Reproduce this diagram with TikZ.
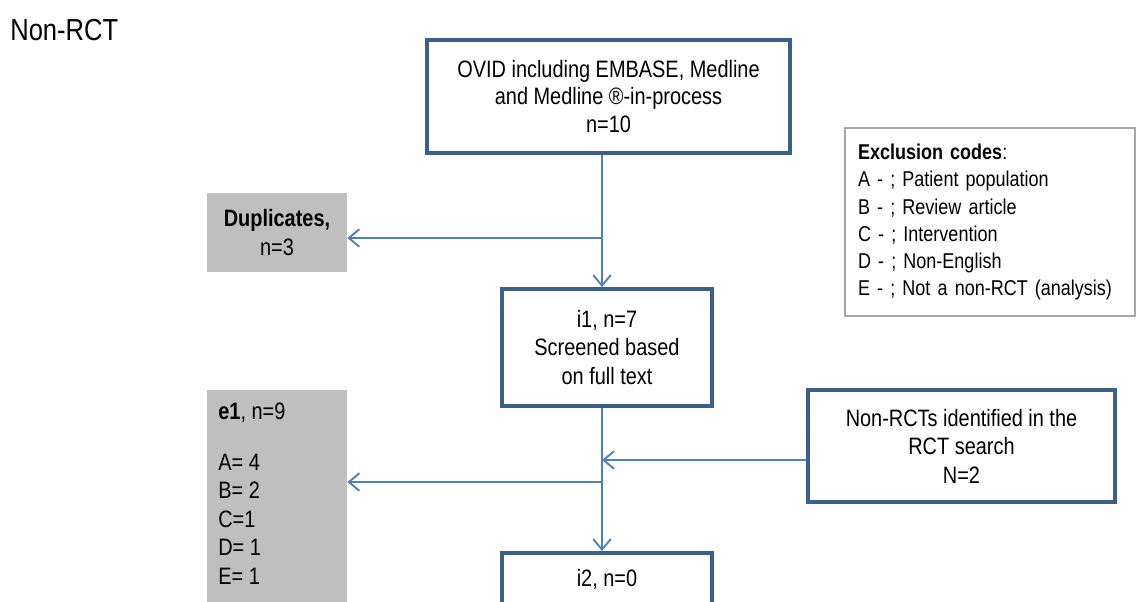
\documentclass[tikz,border=0pt]{standalone}
\usepackage{fontspec}
\setmainfont{Liberation Sans}[FakeStretch=0.84]
\usetikzlibrary{arrows.meta}
\definecolor{cadre}{RGB}{58,95,140}
\definecolor{fleche}{RGB}{79,129,189}
\definecolor{grisfond}{RGB}{191,191,191}
\definecolor{grisbord}{RGB}{166,166,166}
\begin{document}
\begin{tikzpicture}[x=0.02cm, y=-0.02cm,
    boite/.style={draw=cadre, line width=2.2pt, align=center, inner sep=0pt,
        font=\fontsize{13.5}{16.2}\selectfont},
    exclu/.style={fill=grisfond, inner sep=0pt, align=center,
        font=\fontsize{13.5}{16.2}\selectfont},
    fl/.style={draw=fleche, line width=1.1pt, -{Straight Barb[length=6pt,width=10pt]}}]
    \useasboundingbox (0,0) rectangle (1137,602);
    % Titre
    \node[anchor=west, inner sep=0pt, font=\fontsize{17.3}{20}\selectfont] (titre) at (10,30) {Non-RCT};
    % Boites principales
    \node[boite, minimum width=7.26cm, minimum height=2.26cm, font=\fontsize{13.5}{15.4}\selectfont]
        (ovid) at (608.5,96.5) {OVID including EMBASE, Medline\\and Medline ®-in-process\\n=10};
    \node[boite, minimum width=4.2cm, minimum height=2.34cm] (i1) at (607,347.5)
        {i1, n=7\\Screened based\\on full text};
    \node[boite, minimum width=4.2cm, minimum height=1.06cm] (i2) at (607,579.5) {i2, n=0};
    \node[boite, minimum width=6.14cm, minimum height=2.24cm] (rct) at (961.5,446)
        {Non-RCTs identified in the\\RCT search\\N=2};
    % Exclusions
    \node[exclu, minimum width=2.8cm, minimum height=1.58cm] (dup) at (277,232.5)
        {\textbf{Duplicates,}\\n=3};
    \node[exclu, minimum width=2.8cm, minimum height=4.6cm, anchor=north] (e1) at (277,390) {};
    \node[anchor=north west, inner sep=0pt, align=left, font=\fontsize{13.5}{16.2}\selectfont]
        (e1txt) at (218,403) {\textbf{e1}, n=9\\[12.6pt]A= 4\\B= 2\\C=1\\D= 1\\E= 1};
    % Codes d'exclusion
    \node[draw=grisbord, line width=0.8pt, minimum width=5.8cm, minimum height=3.76cm,
        inner xsep=0.26cm, text width=5.28cm, align=left,
        font=\fontsize{12.2}{15.4}\selectfont] (codes) at (990,222)
        {\textbf{Exclusion codes}:\\A - ; Patient population\\B - ; Review article\\C - ; Intervention\\D - ; Non-English\\E - ; Not a non-RCT (analysis)};
    % Fleches
    \coordinate (tronc) at (602,0);
    \coordinate (b1) at (602,238);
    \coordinate (b3) at (602,460);
    \coordinate (b4) at (602,482);
    \draw[fl] (ovid.south -| tronc) -- (i1.north -| tronc);
    \draw[fl] (b1) -- (b1 -| dup.east);
    \draw[fl] (i1.south -| tronc) -- (i2.north -| tronc);
    \draw[fl] (b3 -| rct.west) -- (b3);
    \draw[fl] (b4) -- (b4 -| e1.east);
\end{tikzpicture}
\end{document}
